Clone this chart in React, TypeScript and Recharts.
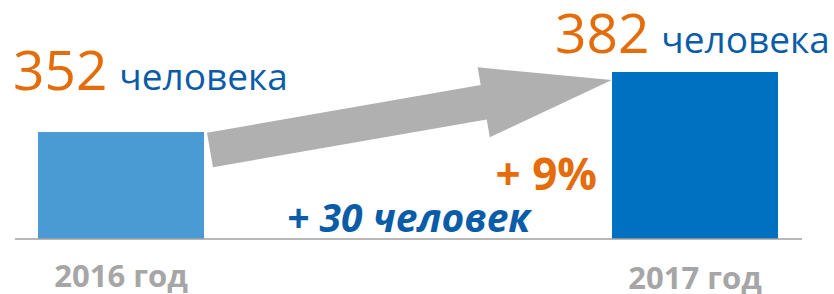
import React from "react";
import { BarChart, Bar, XAxis, YAxis, Cell, LabelList, ReferenceLine } from "recharts";

const categories = ["2016 год", "2017 год"];
const values = [352, 382];
const unitWord = "человека";
const barColors = ["#4A9AD3", "#0070C0"];
const arrowFrom = { x: 0.155, y: 343 };
const arrowTo = { x: 0.855, y: 378 };

const FONT = "'Open Sans', 'Noto Sans', sans-serif";
const ORANGE = "#E46C0A";
const BLUE = "#0B5CA8";
const GRAY = "#A6A6A6";

const data = categories.map((c, i) => ({ idx: i, name: c, value: values[i] }));
const diff = values[1] - values[0];
const pct = Math.round((diff / values[0]) * 100);

const labelOffsets = [
  { dx: -25, dy: -42 },
  { dx: -57, dy: -19 },
];
const tickDy = [48, 50];

const ValueLabel = (props: any) => {
  const { x, y, index, value } = props;
  const o = labelOffsets[index] || { dx: 0, dy: -10 };
  return (
    <text x={x + o.dx} y={y + o.dy} fontFamily={FONT}>
      <tspan fill={ORANGE} fontSize={55}>{value}</tspan>
      <tspan fill={BLUE} fontSize={37} dx={12}>{unitWord}</tspan>
    </text>
  );
};

const Tick = (props: any) => {
  const { x, y, payload, index } = props;
  return (
    <text
      x={x}
      y={y + (tickDy[index] ?? 50)}
      textAnchor="middle"
      fontFamily={FONT}
      fontWeight={700}
      fontSize={31}
      fill={GRAY}
    >
      {categories[payload.value]}
    </text>
  );
};

const ArrowShape = (props: any) => {
  const { x1, y1, x2, y2 } = props;
  if ([x1, y1, x2, y2].some((v) => typeof v !== "number" || isNaN(v))) return null;
  const dx = x2 - x1;
  const dy = y2 - y1;
  const len = Math.sqrt(dx * dx + dy * dy);
  const ux = dx / len;
  const uy = dy / len;
  const px = -uy;
  const py = ux;
  const shaftHalf = 17.5;
  const headHalf = 35.5;
  const headLen = 130;
  const bx = x2 - ux * headLen;
  const by = y2 - uy * headLen;
  const pts = [
    [x1 + px * shaftHalf, y1 + py * shaftHalf],
    [bx + px * shaftHalf, by + py * shaftHalf],
    [bx + px * headHalf, by + py * headHalf],
    [x2, y2],
    [bx - px * headHalf, by - py * headHalf],
    [bx - px * shaftHalf, by - py * shaftHalf],
    [x1 - px * shaftHalf, y1 - py * shaftHalf],
  ];
  return <polygon points={pts.map((p) => p.join(",")).join(" ")} fill="#B0B0B0" />;
};

export default function App() {
  return (
    <div style={{ position: "absolute", left: 0, top: 0, background: "#fff" }}>
      <BarChart
        width={834}
        height={294}
        data={data}
        margin={{ top: 36, right: 32, bottom: 0, left: 15 }}
      >
        <XAxis
          type="number"
          dataKey="idx"
          domain={[-0.1847, 1.1864]}
          ticks={[0, 1]}
          interval={0}
          height={55}
          tickLine={false}
          tickSize={0}
          tickMargin={0}
          axisLine={{ stroke: "#A0A0A0", strokeWidth: 1.5 }}
          tick={<Tick />}
          allowDataOverflow
        />
        <YAxis hide domain={[298.5, 400]} allowDataOverflow />
        <ReferenceLine
          segment={[arrowFrom, arrowTo]}
          shape={<ArrowShape />}
          ifOverflow="visible"
        />
        <Bar dataKey="value" barSize={166} isAnimationActive={false}>
          {data.map((d, i) => (
            <Cell key={d.name} fill={barColors[i]} />
          ))}
          <LabelList dataKey="value" content={<ValueLabel />} />
        </Bar>
        <text
          x={597}
          y={190}
          textAnchor="end"
          fontFamily={FONT}
          fontWeight={700}
          fontSize={44}
          fill={ORANGE}
        >
          {`+ ${pct}%`}
        </text>
        <text
          x={287}
          y={232}
          fontFamily={FONT}
          fontWeight={700}
          fontStyle="italic"
          fontSize={39}
          fill={BLUE}
        >
          {`+ ${diff} человек`}
        </text>
      </BarChart>
    </div>
  );
}
